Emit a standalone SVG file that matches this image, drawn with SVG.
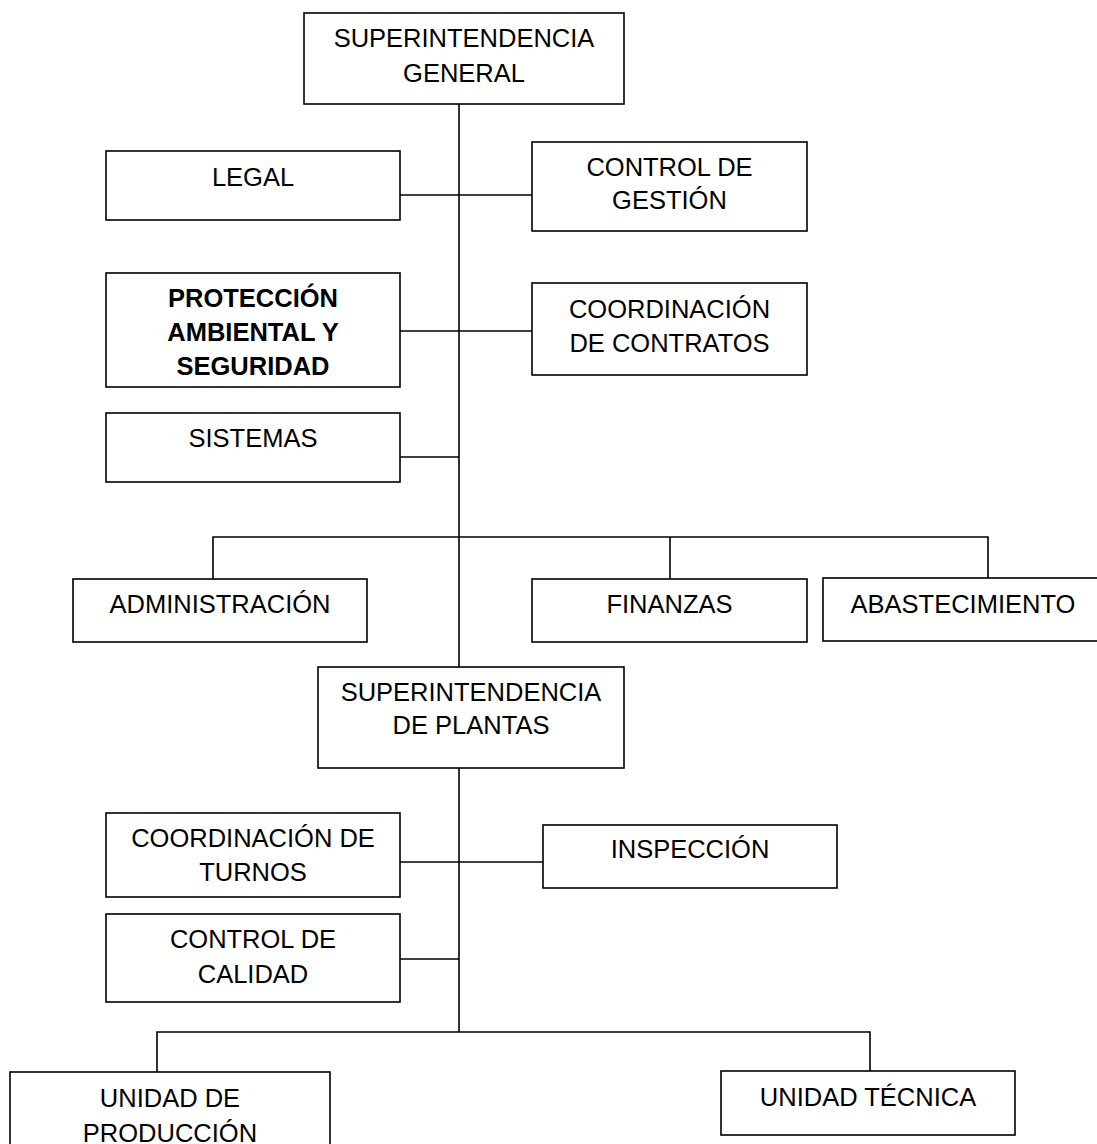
<svg xmlns="http://www.w3.org/2000/svg" width="1097" height="1144" viewBox="0 0 1097 1144">
  <style>
    .box { fill: #fff; stroke: #000; stroke-width: 1.6; }
    .lbl { font-family: "Liberation Sans", Arial, sans-serif; font-size: 25.5px; fill: #000; text-anchor: middle; }
    .bold { font-weight: bold; }
    .wire { fill: none; stroke: #000; stroke-width: 1.6; }
  </style>
  <rect width="1097" height="1144" fill="#fff"/>

  <!-- reporting lines -->
  <g id="connectors" class="wire">
    <path d="M459 104 V667"/>
    <path d="M400 195 H532"/>
    <path d="M400 331 H532"/>
    <path d="M400 457 H459"/>
    <path d="M213 579 V537 H988 V578"/>
    <path d="M670 537 V579"/>
    <path d="M459 768 V1032"/>
    <path d="M400 862 H543"/>
    <path d="M400 959 H459"/>
    <path d="M157 1072 V1032 H870 V1071"/>
  </g>

  <g id="superintendencia-general">
    <rect class="box" x="304" y="13" width="320" height="91"/>
    <text class="lbl" x="464" y="47">SUPERINTENDENCIA</text>
    <text class="lbl" x="464" y="82">GENERAL</text>
  </g>

  <g id="legal">
    <rect class="box" x="106" y="151" width="294" height="69"/>
    <text class="lbl" x="253" y="186">LEGAL</text>
  </g>

  <g id="control-gestion">
    <rect class="box" x="532" y="142" width="275" height="89"/>
    <text class="lbl" x="669.5" y="176">CONTROL DE</text>
    <text class="lbl" x="669.5" y="209">GESTIÓN</text>
  </g>

  <g id="proteccion-ambiental">
    <rect class="box" x="106" y="273" width="294" height="114"/>
    <text class="lbl bold" x="253" y="307">PROTECCIÓN</text>
    <text class="lbl bold" x="253" y="341">AMBIENTAL Y</text>
    <text class="lbl bold" x="253" y="375">SEGURIDAD</text>
  </g>

  <g id="coordinacion-contratos">
    <rect class="box" x="532" y="283" width="275" height="92"/>
    <text class="lbl" x="669.5" y="318">COORDINACIÓN</text>
    <text class="lbl" x="669.5" y="352">DE CONTRATOS</text>
  </g>

  <g id="sistemas">
    <rect class="box" x="106" y="413" width="294" height="69"/>
    <text class="lbl" x="253" y="447">SISTEMAS</text>
  </g>

  <g id="administracion">
    <rect class="box" x="73" y="579" width="294" height="63"/>
    <text class="lbl" x="220" y="613">ADMINISTRACIÓN</text>
  </g>

  <g id="finanzas">
    <rect class="box" x="532" y="579" width="275" height="63"/>
    <text class="lbl" x="669.5" y="613">FINANZAS</text>
  </g>

  <g id="abastecimiento">
    <rect class="box" x="823" y="578" width="284" height="63"/>
    <text class="lbl" x="963" y="613">ABASTECIMIENTO</text>
  </g>

  <g id="superintendencia-plantas">
    <rect class="box" x="318" y="667" width="306" height="101"/>
    <text class="lbl" x="471" y="701">SUPERINTENDENCIA</text>
    <text class="lbl" x="471" y="734">DE PLANTAS</text>
  </g>

  <g id="coordinacion-turnos">
    <rect class="box" x="106" y="813" width="294" height="84"/>
    <text class="lbl" x="253" y="847">COORDINACIÓN DE</text>
    <text class="lbl" x="253" y="881">TURNOS</text>
  </g>

  <g id="inspeccion">
    <rect class="box" x="543" y="825" width="294" height="63"/>
    <text class="lbl" x="690" y="858">INSPECCIÓN</text>
  </g>

  <g id="control-calidad">
    <rect class="box" x="106" y="914" width="294" height="88"/>
    <text class="lbl" x="253" y="948">CONTROL DE</text>
    <text class="lbl" x="253" y="983">CALIDAD</text>
  </g>

  <g id="unidad-produccion">
    <rect class="box" x="10" y="1072" width="320" height="100"/>
    <text class="lbl" x="170" y="1107">UNIDAD DE</text>
    <text class="lbl" x="170" y="1142">PRODUCCIÓN</text>
  </g>

  <g id="unidad-tecnica">
    <rect class="box" x="721" y="1071" width="294" height="64"/>
    <text class="lbl" x="868" y="1106">UNIDAD TÉCNICA</text>
  </g>
</svg>
